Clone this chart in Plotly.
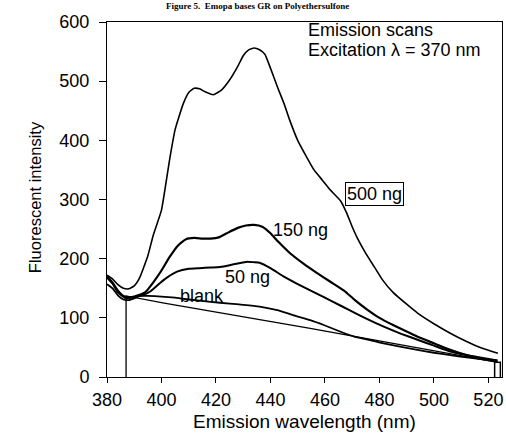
import plotly.graph_objects as go

# ---- data ----
x_500 = [380, 382, 384, 386, 388, 390, 392, 395, 397, 400, 403, 405, 408, 410, 412, 414, 416, 419, 422, 425,
         428, 430, 432, 434, 436, 438, 440, 442.5, 445, 447, 450, 453.5, 456, 459, 462, 465.7, 468, 470, 472,
         475, 478, 481, 485, 490, 494, 500, 506, 512, 518, 523.5]
y_500 = [172, 166, 156, 150, 149, 154, 168, 205, 240, 282, 368, 418, 462, 481, 488, 487, 482, 477, 485, 502,
         525, 543, 553, 556, 553, 545, 522, 491, 462, 435, 400, 370, 350, 333, 316, 298, 277, 254, 234,
         209, 187, 165, 143, 123, 108, 90, 74, 60, 48, 40]

x_150 = [380, 382, 384, 386, 388, 390, 392, 394, 397, 400, 403, 406, 409, 412, 415, 418, 421, 424, 428, 431,
         434, 437, 440, 443, 447, 452, 457, 462, 467, 471, 475.5, 480, 485, 490, 494, 500, 506, 512, 518, 523.3]
y_150 = [170, 160, 146, 137, 135, 136, 139, 143, 160, 180, 203, 222, 233, 235, 234, 234, 236, 243, 252, 256,
         257, 254, 243, 228, 210, 192, 176, 161, 146, 130, 114, 100, 88, 77, 68, 57, 46, 37, 30, 26]

x_50 = [380, 382, 384, 387, 390, 393, 396, 399.5, 402, 405.7, 410, 414, 418, 421.5, 425, 428, 431.5, 434, 436,
        440, 444.8, 450, 457, 463, 469, 475, 481.6, 488, 494, 500, 506, 512, 518, 523.3]
y_50 = [168, 158, 143, 133, 135, 138, 145, 159, 168, 178, 183, 184, 185, 186, 189, 192, 195, 194, 193,
        184, 170, 157, 141, 127, 113, 99, 85, 73, 63, 53, 43, 37, 32, 28]

x_blank = [380, 382, 384, 386, 388, 390, 392, 395, 400, 405, 410, 418, 425, 430, 436, 442.5, 448, 454.6, 460,
           466, 471, 477, 481.5, 488, 494, 500, 506, 512, 518, 523.3]
y_blank = [157, 150, 138, 131, 130, 133, 137, 137, 136, 134, 131, 127, 124, 122, 119, 113, 105, 96, 87,
           76, 68, 62, 57, 51, 46, 41, 37, 33, 30, 28]

x_base = [387, 387, 401, 432, 454.6, 523]
y_base = [0, 137, 125, 100, 82, 25]

x_edge = [522.3, 522.3, 524.4, 524.4]
y_edge = [0, 25, 25, 0]

x_ticks = [380, 400, 420, 440, 460, 480, 500, 520]
y_ticks = [0, 100, 200, 300, 400, 500, 600]

labels = [("500 ng", 478.2, 309), ("150 ng", 451, 248), ("50 ng", 431.6, 169), ("blank", 414.9, 137)]

fig = go.Figure()
for xs, ys, w, smooth in [(x_500, y_500, 1.6, True), (x_150, y_150, 2.2, True), (x_50, y_50, 2.0, True),
                          (x_blank, y_blank, 1.8, True), (x_base, y_base, 1.3, False),
                          (x_edge, y_edge, 1.5, False)]:
    line = dict(color="black", width=w)
    if smooth:
        line.update(shape="spline", smoothing=0.4)
    fig.add_trace(go.Scatter(x=xs, y=ys, mode="lines", line=line, showlegend=False, hoverinfo="skip"))

font = dict(family="Liberation Sans, Arial, sans-serif", size=18, color="black")
xtitle_font = dict(family="Liberation Sans, Arial, sans-serif", size=19, color="black")
ytitle_font = dict(family="Liberation Sans, Arial, sans-serif", size=16.5, color="black")

for text, lx, ly in labels:
    boxed = text == "500 ng"
    fig.add_annotation(x=lx, y=ly, text=text, showarrow=False, font=font,
                       bordercolor="black" if boxed else "rgba(0,0,0,0)",
                       borderwidth=1 if boxed else 0, borderpad=1,
                       bgcolor="white" if boxed else "rgba(0,0,0,0)")

fig.add_annotation(x=453.2, y=586, text="Emission scans", showarrow=False, xanchor="left",
                   yanchor="middle", font=font)
fig.add_annotation(x=453.2, y=552, text="Excitation λ = 370 nm", showarrow=False, xanchor="left",
                   yanchor="middle", font=font)

# axis titles
fig.add_annotation(xref="paper", yref="paper", x=0.5, y=-0.124, xanchor="center", yanchor="middle",
                   text="Emission wavelength (nm)", showarrow=False, font=xtitle_font)
fig.add_annotation(xref="paper", yref="paper", x=-0.182, y=0.507, xanchor="center", yanchor="middle",
                   text="Fluorescent intensity", textangle=-90, showarrow=False, font=ytitle_font)

fig.add_annotation(xref="paper", yref="paper", x=0.38, y=1.046, xanchor="center", yanchor="middle",
                   text="<b>Figure 5.  Emopa bases GR on Polyethersulfone</b>", showarrow=False,
                   font=dict(family="Liberation Serif, Times New Roman, serif", size=9, color="black"))

fig.update_layout(
    width=506, height=435,
    margin=dict(l=107, r=4, t=22, b=58),
    paper_bgcolor="white", plot_bgcolor="white",
    font=font,
    xaxis=dict(range=[380, 525], tickvals=x_ticks, ticks="outside", ticklen=5, tickcolor="black",
               ticklabelstandoff=1, automargin=False,
               showline=True, linecolor="black", linewidth=1, mirror=True, showgrid=False, zeroline=False,
               tickfont=font),
    yaxis=dict(range=[0, 600], tickvals=y_ticks, ticks="outside", ticklen=7, tickcolor="black",
               ticklabelstandoff=6, automargin=False,
               showline=True, linecolor="black", linewidth=1, mirror=True, showgrid=False, zeroline=False,
               tickfont=font),
)

fig.write_html("out.html")
